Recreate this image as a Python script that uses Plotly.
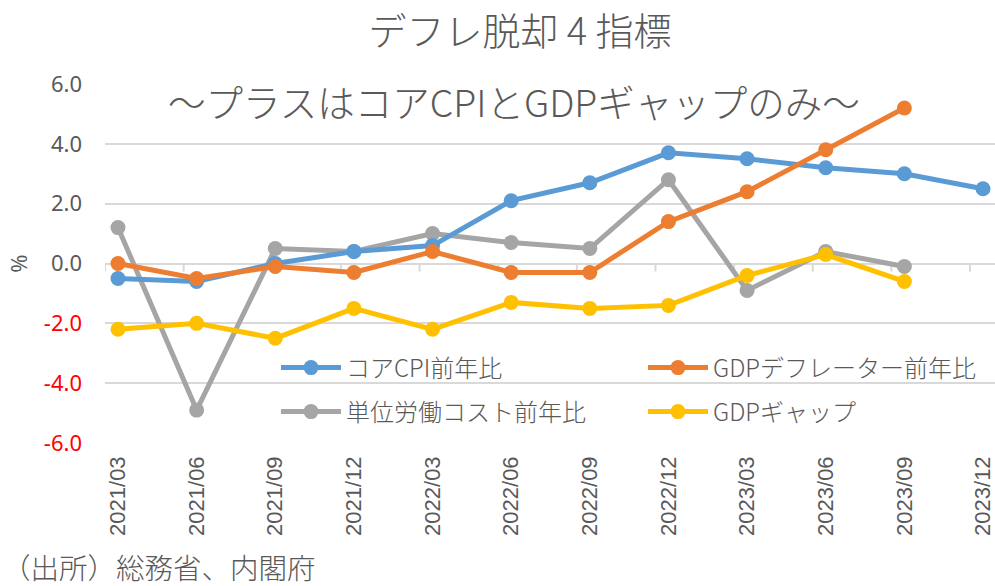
import plotly.graph_objects as go

categories = ["2021/03", "2021/06", "2021/09", "2021/12", "2022/03", "2022/06",
              "2022/09", "2022/12", "2023/03", "2023/06", "2023/09", "2023/12"]
core_cpi = [-0.5, -0.6, 0.0, 0.4, 0.6, 2.1, 2.7, 3.7, 3.5, 3.2, 3.0, 2.5]
gdp_deflator = [0.0, -0.5, -0.1, -0.3, 0.4, -0.3, -0.3, 1.4, 2.4, 3.8, 5.2, None]
unit_labor_cost = [1.2, -4.9, 0.5, 0.4, 1.0, 0.7, 0.5, 2.8, -0.9, 0.4, -0.1, None]
gdp_gap = [-2.2, -2.0, -2.5, -1.5, -2.2, -1.3, -1.5, -1.4, -0.4, 0.3, -0.6, None]

y_ticks = [6, 4, 2, 0, -2, -4, -6]

names = ["コアCPI前年比", "GDPデフレーター前年比", "単位労働コスト前年比", "GDPギャップ"]
colors = ["#5B9BD5", "#ED7D31", "#A5A5A5", "#FFC000"]
series = [core_cpi, gdp_deflator, unit_labor_cost, gdp_gap]
legend_ids = ["legend", "legend2", "legend3", "legend4"]

FONT = "Noto Sans CJK JP"
TXT = "#595959"
xs = list(range(len(categories)))

# plot-area geometry (pixels)
L, R, T, B = 105, 0, 84, 143
PW = 995 - L - R
PH = 586 - T - B
STEP = 78.7

def px_x(p):
    return (p - L) / PW

def px_y(p):
    return (586 - B - p) / PH

fig = go.Figure()
for i in [2, 0, 1, 3]:  # gray drawn underneath
    fig.add_trace(go.Scatter(
        x=xs, y=series[i], name=names[i], mode="lines+markers",
        line=dict(color=colors[i], width=5),
        marker=dict(color=colors[i], size=15),
        legend=legend_ids[i],
    ))

# tick marks along the zero line (between categories)
off = 13 / STEP
for k in range(len(categories)):
    fig.add_shape(type="line", xref="x", yref="y", x0=k - off, x1=k - off,
                  y0=0, y1=-0.27, line=dict(color="#D9D9D9", width=2), layer="below")

def ytxt(v):
    s = f"{v:.1f}"
    if v < 0:
        return f'<span style="color:#FF0000">{s}</span>'
    return s

leg_common = dict(orientation="h", xanchor="left", yanchor="middle", itemwidth=60,
                  font=dict(size=24, color=TXT, family=FONT, weight=300),
                  bgcolor="rgba(0,0,0,0)")
leg_pos = {
    "legend": (px_x(276), px_y(368)),
    "legend2": (px_x(643), px_y(368)),
    "legend3": (px_x(276), px_y(412)),
    "legend4": (px_x(643), px_y(412)),
}

fig.update_layout(
    width=995, height=586,
    margin=dict(l=L, r=R, t=T, b=B),
    paper_bgcolor="white", plot_bgcolor="white",
    font=dict(family=FONT, color=TXT),
    title=dict(text="デフレ脱却 4 指標", x=520 / 995, xanchor="center",
               y=1 - 32 / 586, yanchor="middle", yref="container",
               font=dict(size=38, color=TXT, family=FONT, weight=300)),
    xaxis=dict(range=[-off, 11 + (995 - 983) / STEP], tickmode="array", tickvals=xs,
               ticktext=categories, tickangle=-90, showgrid=False, zeroline=False,
               showline=False, ticks="", ticklabelstandoff=8, ticklabeloverflow="allow",
               tickfont=dict(size=22, color=TXT, family="Liberation Sans")),
    yaxis=dict(range=[-6, 6], tickmode="array", tickvals=y_ticks,
               ticktext=[ytxt(v) for v in y_ticks], showgrid=True, gridcolor="#D9D9D9",
               gridwidth=2, zeroline=False, showline=False, ticks="",
               ticklabelstandoff=22,
               tickfont=dict(size=22, color=TXT, family="Noto Sans"),
               title=dict(text="%", font=dict(size=22, color=TXT, family="Noto Sans"), standoff=10)),
    showlegend=True,
)
for lid, (lx, ly) in leg_pos.items():
    fig.update_layout({lid: dict(x=lx, y=ly, **leg_common)})

fig.add_annotation(text="～プラスはコアCPIとGDPギャップのみ～", xref="paper", yref="paper",
                   x=px_x(514), y=px_y(100), xanchor="center", yanchor="middle",
                   showarrow=False, font=dict(size=37.5, color=TXT, family=FONT, weight=300))
fig.add_annotation(text="（出所）総務省、内閣府", xref="paper", yref="paper",
                   x=px_x(0), y=px_y(566), xanchor="left", yanchor="middle",
                   showarrow=False, font=dict(size=28.5, color=TXT, family=FONT, weight=300))

fig.write_html("out.html")
